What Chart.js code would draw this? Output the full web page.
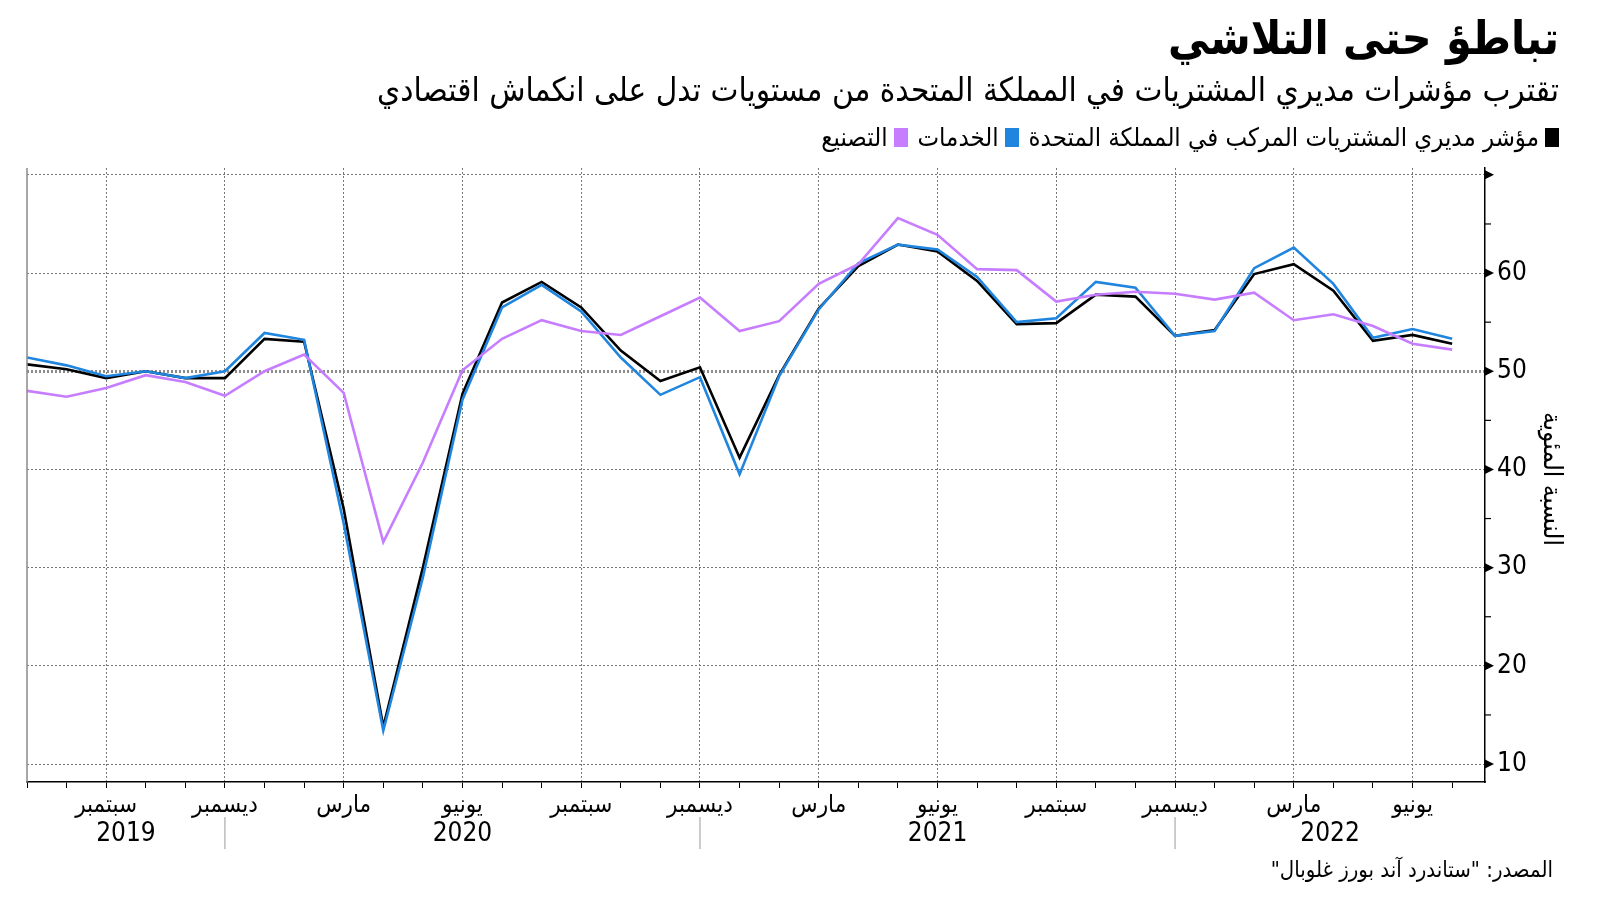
<!DOCTYPE html>
<html lang="ar">
<head>
<meta charset="utf-8">
<script src="https://cdn.jsdelivr.net/npm/chart.js@4"></script>
<style>
  html, body { margin:0; padding:0; background:#fff; }
  body { width:1600px; height:901px; position:relative; overflow:hidden;
         font-family:"DejaVu Sans Condensed","DejaVu Sans",sans-serif; color:#000; }
  #wrap { position:absolute; left:0; top:0; width:1600px; height:901px; }
  .t { position:absolute; direction:rtl; white-space:nowrap; }
  #title { right:41px; top:11px; font-size:46px; font-weight:bold; }
  #subtitle { right:41px; top:70px; font-size:33px; }
  #legend { right:41px; top:122px; font-size:25.5px; display:flex; align-items:center; }
  #legend .sw { display:inline-block; width:14px; height:19px; margin-left:6px; }
  #legend .item { display:flex; align-items:center; margin-left:10px; }
  #source { right:47px; top:857px; font-size:22px; }
  #ytitle { left:1538px; top:412px; font-size:26px; writing-mode:vertical-rl; direction:rtl; }
</style>
</head>
<body>
<div id="wrap"><canvas id="c" width="1600" height="901"></canvas></div>
<div class="t" id="title">تباطؤ حتى التلاشي</div>
<div class="t" id="subtitle">تقترب مؤشرات مديري المشتريات في المملكة المتحدة من مستويات تدل على انكماش اقتصادي</div>
<div class="t" id="legend">
  <span class="item"><span class="sw" style="background:#000"></span>مؤشر مديري المشتريات المركب في المملكة المتحدة</span>
  <span class="item"><span class="sw" style="background:#1f85de"></span>الخدمات</span>
  <span class="item"><span class="sw" style="background:#c77dff"></span>التصنيع</span>
</div>
<div class="t" id="ytitle">النسبة المئوية</div>
<div class="t" id="source">المصدر: "ستاندرد آند بورز غلوبال"</div>
<script>
// ---- data (monthly, July 2019 .. July 2022) ----
const months = ['2019-07','2019-08','2019-09','2019-10','2019-11','2019-12',
  '2020-01','2020-02','2020-03','2020-04','2020-05','2020-06','2020-07','2020-08','2020-09','2020-10','2020-11','2020-12',
  '2021-01','2021-02','2021-03','2021-04','2021-05','2021-06','2021-07','2021-08','2021-09','2021-10','2021-11','2021-12',
  '2022-01','2022-02','2022-03','2022-04','2022-05','2022-06','2022-07'];
const composite = [50.7,50.2,49.3,50.0,49.3,49.3,
  53.3,53.0,36.0,13.8,30.0,47.7,57.0,59.1,56.5,52.1,49.0,50.4,
  41.2,49.6,56.4,60.7,62.9,62.2,59.2,54.8,54.9,57.8,57.6,53.6,
  54.2,59.9,60.9,58.2,53.1,53.7,52.8];
const services = [51.4,50.6,49.5,50.0,49.3,50.0,
  53.9,53.2,34.5,13.4,29.0,47.1,56.5,58.8,56.1,51.4,47.6,49.4,
  39.5,49.5,56.3,61.0,62.9,62.4,59.6,55.0,55.4,59.1,58.5,53.6,
  54.1,60.5,62.6,58.9,53.4,54.3,53.3];
const manufacturing = [48.0,47.4,48.3,49.6,48.9,47.5,
  50.0,51.7,47.8,32.6,40.7,50.1,53.3,55.2,54.1,53.7,55.6,57.5,
  54.1,55.1,58.9,60.9,65.6,63.9,60.4,60.3,57.1,57.8,58.1,57.9,
  57.3,58.0,55.2,55.8,54.6,52.8,52.2];
const monthNames = {'03':'مارس','06':'يونيو','09':'سبتمبر','12':'ديسمبر'};
const years = ['2019','2020','2021','2022'];
const yTickValues = [10,15,20,25,30,35,40,45,50,55,60,65,70];
const yLabelValues = [10,20,30,40,50,60];

const FONT = '"DejaVu Sans Condensed","DejaVu Sans",sans-serif';
const isQuarter = i => months[i] && monthNames[months[i].slice(5)] !== undefined;

const decoPlugin = {
  id: 'deco',
  afterDraw(chart) {
    const ctx = chart.ctx, a = chart.chartArea;
    const y = chart.scales.y, x = chart.scales.x;
    ctx.save();
    // left border
    ctx.strokeStyle = '#8a8a8a'; ctx.lineWidth = 1.5;
    ctx.beginPath(); ctx.moveTo(a.left, a.top); ctx.lineTo(a.left, a.bottom); ctx.stroke();
    // y ticks: triangles at major values, short lines at minor
    ctx.fillStyle = '#000'; ctx.strokeStyle = '#000'; ctx.lineWidth = 1.2;
    yTickValues.forEach(v => {
      const py = y.getPixelForValue(v);
      if (v % 10 === 0) {
        ctx.beginPath(); ctx.moveTo(a.right, py - 4.5); ctx.lineTo(a.right + 9, py); ctx.lineTo(a.right, py + 4.5);
        ctx.closePath(); ctx.fill();
      } else {
        ctx.beginPath(); ctx.moveTo(a.right, py); ctx.lineTo(a.right + 6, py); ctx.stroke();
      }
    });
    // year separators + labels
    const bounds = [a.left];
    months.forEach((m, i) => { if (m.slice(5) === '12') bounds.push(x.getPixelForValue(i)); });
    bounds.push(a.right);
    ctx.strokeStyle = '#9a9a9a'; ctx.lineWidth = 1;
    for (let k = 1; k < bounds.length - 1; k++) {
      ctx.beginPath(); ctx.moveTo(bounds[k], 817); ctx.lineTo(bounds[k], 849); ctx.stroke();
    }
    ctx.fillStyle = '#000'; ctx.font = '26px ' + FONT; ctx.textAlign = 'center'; ctx.textBaseline = 'middle';
    years.forEach((yr, k) => ctx.fillText(yr, (bounds[k] + bounds[k + 1]) / 2, 834));
    ctx.restore();
  }
};

const mk = arr => arr.map((v, i) => ({x: i, y: v}));

new Chart(document.getElementById('c'), {
  type: 'line',
  data: {
    datasets: [
      {label: 'التصنيع', data: mk(manufacturing), borderColor: '#c77dff', borderWidth: 2.6},
      {label: 'الخدمات', data: mk(services), borderColor: '#1f85de', borderWidth: 2.6},
      {label: 'مؤشر مديري المشتريات المركب في المملكة المتحدة', data: mk(composite), borderColor: '#000', borderWidth: 2.6}
    ]
  },
  options: {
    responsive: false, animation: false, devicePixelRatio: 1,
    layout: {padding: {left: 27, top: 168, right: 0, bottom: 0}},
    elements: {point: {radius: 0}, line: {tension: 0, fill: false}},
    plugins: {legend: {display: false}, tooltip: {enabled: false}},
    scales: {
      x: {
        type: 'linear', min: 0, max: 36.83,
        afterBuildTicks: s => { s.ticks = months.map((m, i) => ({value: i})); },
        afterFit: s => { s.height = 119; },
        grid: {
          color: c => (c.tick && isQuarter(c.tick.value)) ? '#777' : 'rgba(0,0,0,0)',
          tickColor: '#000', tickLength: 6, lineWidth: 1
        },
        border: {display: true, color: '#000', width: 1.5, dash: [2, 2]},
        ticks: {
          autoSkip: false, maxRotation: 0, padding: 3, color: '#000',
          font: {family: FONT, size: 24},
          callback: v => { const m = months[v]; return m ? (monthNames[m.slice(5)] || '') : ''; }
        }
      },
      y: {
        position: 'right', min: 8.17, max: 70.7,
        afterBuildTicks: s => { s.ticks = yTickValues.map(v => ({value: v})); },
        afterFit: s => { s.width = 115; },
        grid: {
          drawTicks: false,
          color: c => (c.tick && c.tick.value % 10 === 0) ? (c.tick.value === 50 ? '#8c8c8c' : '#777') : 'rgba(0,0,0,0)',
          lineWidth: c => (c.tick && c.tick.value === 50) ? 3 : 1
        },
        border: {display: true, color: '#000', width: 1.5, dash: [2, 2]},
        ticks: {
          padding: 12, color: '#000', font: {family: FONT, size: 26},
          callback: v => yLabelValues.includes(v) ? String(v) : ''
        }
      }
    }
  },
  plugins: [decoPlugin]
});
</script>
</body>
</html>
